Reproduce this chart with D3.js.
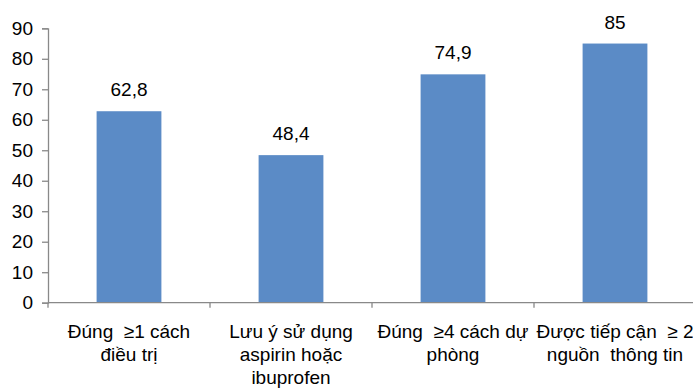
<!DOCTYPE html>
<html>
<head>
<meta charset="utf-8">
<script src="https://cdn.jsdelivr.net/npm/d3@7"></script>
<style>
  html, body { margin: 0; padding: 0; background: #fff; }
  svg { display: block; font-family: "Liberation Sans", Arial, sans-serif; }
</style>
</head>
<body>
<svg id="chart" width="693" height="389"></svg>
<script>
// Category labels (line-broken as shown under the axis)
const categories = [
  ["Đúng  ≥1 cách", "điều trị"],
  ["Lưu ý sử dụng", "aspirin hoặc", "ibuprofen"],
  ["Đúng  ≥4 cách dự", "phòng"],
  ["Được tiếp cận  ≥ 2", "nguồn  thông tin"]
];
const values = [62.8, 48.4, 74.9, 85];
const valueLabels = ["62,8", "48,4", "74,9", "85"];
const yTicks = [0, 10, 20, 30, 40, 50, 60, 70, 80, 90];

const svg = d3.select("#chart");
const fontSize = 19;
const axisColor = "#898989";
const barColor = "#5B8BC6";

const x = d3.scaleBand()
  .domain(d3.range(categories.length))
  .range([48, 696])
  .padding(0);

const y = d3.scaleLinear()
  .domain([0, 90])
  .range([302.7, 28.3]);

const barW = x.bandwidth() * 0.4;

// Bars
svg.append("g")
  .selectAll("rect")
  .data(values)
  .join("rect")
  .attr("x", (d, i) => x(i) + (x.bandwidth() - barW) / 2)
  .attr("y", d => y(d))
  .attr("width", barW)
  .attr("height", d => y(0) - y(d))
  .attr("fill", barColor);

// Value labels
svg.append("g")
  .selectAll("text")
  .data(values)
  .join("text")
  .attr("x", (d, i) => x(i) + x.bandwidth() / 2)
  .attr("y", d => y(d) - 15)
  .attr("text-anchor", "middle")
  .attr("font-size", fontSize)
  .attr("fill", "#000")
  .text((d, i) => valueLabels[i]);

// Y axis
const yAxis = svg.append("g")
  .attr("transform", "translate(48,0)")
  .call(d3.axisLeft(y).tickValues(yTicks).tickSize(6).tickPadding(9).tickFormat(d3.format("d")));
yAxis.select(".domain").attr("stroke", axisColor).attr("stroke-width", 1.3);
yAxis.selectAll(".tick line").attr("stroke", axisColor).attr("stroke-width", 1.3);
yAxis.selectAll(".tick text")
  .attr("font-size", fontSize)
  .attr("font-family", "Liberation Sans, Arial, sans-serif")
  .attr("fill", "#000");

// X axis
const xAxisG = svg.append("g").attr("transform", `translate(0,${y(0)})`);
xAxisG.append("line")
  .attr("x1", 48).attr("x2", 693)
  .attr("stroke", axisColor).attr("stroke-width", 1.3);
xAxisG.selectAll("line.tick")
  .data(d3.range(categories.length))
  .join("line")
  .attr("class", "tick")
  .attr("x1", i => x(i)).attr("x2", i => x(i))
  .attr("y1", 0).attr("y2", 5)
  .attr("stroke", axisColor).attr("stroke-width", 1.3);

// Category labels
const catG = svg.append("g");
categories.forEach((lines, i) => {
  const t = catG.append("text")
    .attr("text-anchor", "middle")
    .attr("font-size", fontSize)
    .attr("fill", "#000");
  lines.forEach((ln, j) => {
    t.append("tspan")
      .attr("x", x(i) + x.bandwidth() / 2)
      .attr("y", 338 + j * 23)
      .attr("xml:space", "preserve")
      .style("white-space", "pre")
      .text(ln);
  });
});
</script>
</body>
</html>
